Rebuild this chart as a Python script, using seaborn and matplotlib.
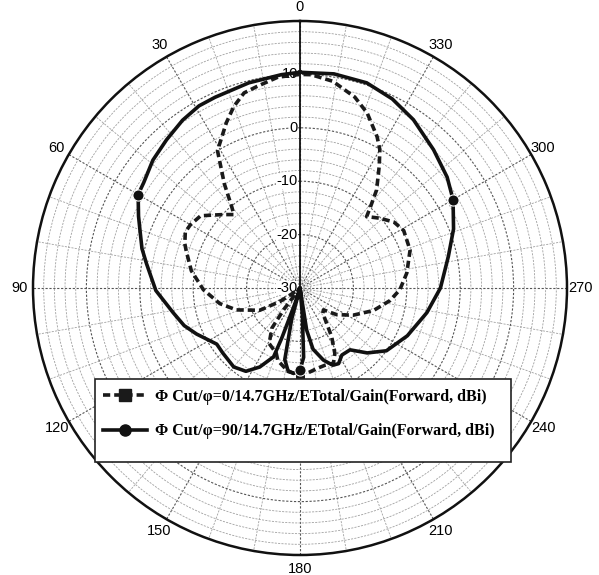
import numpy as np
import pandas as pd
import matplotlib
matplotlib.use("Agg")
import matplotlib.pyplot as plt
import matplotlib.transforms as mtransforms
from matplotlib.lines import Line2D
from matplotlib.patches import Rectangle
import seaborn as sns

# phi = 0 cut (dashed), angle in degrees (counter-clockwise from top), gain in dBi
phi0_theta = [0, 6, 12, 16, 20, 24, 28, 31, 33, 36, 40, 42, 46, 50, 54, 60, 64, 69, 72, 81,
              91, 101, 109, 119, 124, 129, 131, 141, 143, 145, 151, 160, 163, 171, 178, 180,
              185, 192, 198, 204, 208, 213, 217, 222, 227, 234, 243, 253, 262, 269, 278, 289,
              299, 305, 311, 317, 319, 322, 327, 330, 333, 339, 344, 351, 357, 360]
phi0_gain = [10.0, 9.7, 8.6, 8.0, 6.2, 3.9, 1.5, 0.0, -2.7, -5.9, -10.1, -11.5, -10.2, -8.75,
             -7.0, -6.3, -6.1, -6.9, -7.6, -9.4, -11.9, -14.7, -17.4, -21.4, -25.5, -29.0,
             -30.0, -30.0, -25.0, -20.8, -18.1, -17.0, -15.8, -14.4, -13.7, -13.7, -14.0,
             -14.6, -14.8, -14.6, -16.1, -19.1, -21.7, -23.6, -24.0, -21.5, -18.8, -15.6,
             -13.0, -11.3, -9.8, -8.2, -7.8, -8.5, -10.1, -11.7, -9.9, -6.7, -2.75, -0.1,
             1.8, 5.1, 7.2, 9.2, 10.0, 10.0]

# phi = 90 cut (solid)
phi90_theta = [0, 5, 14, 19, 24, 29, 35, 42, 49, 56, 60, 66, 70, 76, 81, 91, 101, 108, 114,
               124, 130, 140, 147, 153, 159, 160, 162, 163, 165, 168, 172, 176, 180, 183, 185,
               187, 189, 192, 198, 203, 207, 212, 219, 226, 234, 246, 259, 270, 282, 291, 300,
               307, 316, 326, 334, 342, 351, 360]
phi90_gain = [10.4, 10.1, 9.6, 9.2, 9.1, 9.0, 8.35, 7.35, 6.5, 5.3, 5.0, 3.1, 1.9, 0.5, -0.9,
              -3.0, -5.8, -7.2, -8.8, -11.2, -11.1, -10.7, -11.4, -13.4, -16.2, -20.0, -27.0,
              -30.0, -24.0, -16.3, -14.2, -14.0, -14.6, -17.0, -25.0, -30.0, -22.0, -18.3,
              -15.8, -14.3, -14.1, -15.2, -15.1, -12.5, -10.0, -8.0, -5.8, -3.7, -1.6, 0.8,
              3.1, 4.5, 6.0, 8.0, 9.4, 10.4, 10.6, 10.4]

phi0_markers = [180]
phi90_markers = [60, 180, 300]

labels = ["Φ Cut/φ=0/14.7GHz/ETotal/Gain(Forward, dBi)",
          "Φ Cut/φ=90/14.7GHz/ETotal/Gain(Forward, dBi)"]
angle_ticks = list(range(0, 360, 30))
r_ticks = [-30, -20, -10, 0, 10]

df0 = pd.DataFrame({"theta": np.deg2rad(phi0_theta), "gain": phi0_gain})
df90 = pd.DataFrame({"theta": np.deg2rad(phi90_theta), "gain": phi90_gain})

W, H = 599, 575
fig = plt.figure(figsize=(W / 100, H / 100), dpi=100)
cx, cy, R = 300, 288, 267
ax = fig.add_axes([(cx - R) / W, (H - cy - R) / H, 2 * R / W, 2 * R / H], projection="polar")
ax.set_theta_zero_location("N")
ax.set_theta_direction(1)
ax.set_ylim(-30, 20)

label_font = ["Liberation Sans Narrow", "Liberation Sans"]

# grid: major every 30 deg / 10 dB, minor every 10 deg / 2 dB
ax.set_xticks(np.deg2rad(angle_ticks))
ax.set_xticklabels([str(a) for a in angle_ticks], fontsize=10.5, family=label_font)
ax.set_xticks(np.deg2rad(np.arange(0, 360, 10)), minor=True)
ax.set_yticks([-20, -10, 0, 10, 20])
ax.set_yticklabels([])
ax.set_yticks(np.arange(-30, 20, 2), minor=True)
ax.grid(which="major", color="#555555", linestyle=(0, (2, 1.5)), linewidth=0.8)
ax.grid(which="minor", color="#a0a0a0", linestyle=(0, (2.5, 1.5)), linewidth=0.6)
ax.tick_params(axis="x", which="major", pad=3, length=0)
ax.tick_params(axis="both", which="minor", length=0)
ax.spines["polar"].set_linewidth(1.8)
ax.spines["polar"].set_color("#111111")
ax.axvline(0, color="#111111", linewidth=1.3, zorder=2)

# radial labels on the 0 deg line (under the curves, over the grid)
off = mtransforms.offset_copy(ax.transData, fig=fig, x=-1.5, y=0, units="points")
for r in r_ticks:
    ax.text(0, r, str(r), transform=off, ha="right", va="center", fontsize=10.5,
            family=label_font, zorder=3,
            bbox=dict(facecolor="white", edgecolor="none", pad=0.3))

sns.lineplot(data=df0, x="theta", y="gain", ax=ax, sort=False, estimator=None,
             color="#1a1a1a", linewidth=2.6, linestyle=(0, (2.0, 1.1)),
             marker="s", markersize=7, markevery=list(np.isin(phi0_theta, phi0_markers)), zorder=4)
sns.lineplot(data=df90, x="theta", y="gain", ax=ax, sort=False, estimator=None,
             color="#111111", linewidth=2.6, marker="o", markersize=8,
             markevery=list(np.isin(phi90_theta, phi90_markers)), zorder=5)
ax.set_xlabel("")
ax.set_ylabel("")

# legend box
fig.patches.append(Rectangle((95 / W, 1 - 462 / H), (511 - 95) / W, (462 - 379) / H,
                             transform=fig.transFigure, facecolor="white", edgecolor="#222222",
                             linewidth=1.2, zorder=8))
handles = [Line2D([], [], color="#1a1a1a", lw=2.6, ls=(0, (2.0, 1.1)), marker="s", markersize=8),
           Line2D([], [], color="#111111", lw=2.6, marker="o", markersize=8)]
leg = fig.legend(handles, labels, loc="center left", bbox_to_anchor=(89 / W, 1 - 414 / H),
                 frameon=False, handlelength=2.7, handletextpad=0.55, labelspacing=1.15,
                 prop={"family": "Liberation Serif", "weight": "bold", "size": 11.5})
leg.set_zorder(9)

fig.savefig("out.png", dpi=100)
